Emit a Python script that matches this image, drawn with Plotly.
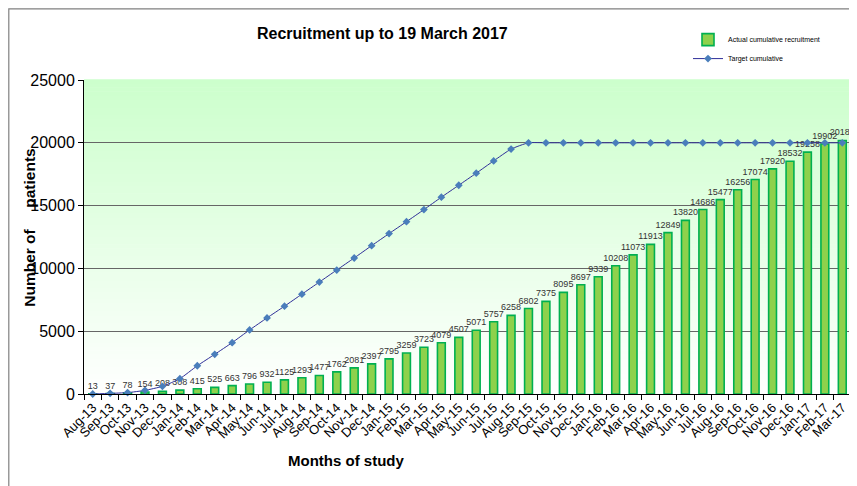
import plotly.graph_objects as go

months = ["Aug-13", "Sep-13", "Oct-13", "Nov-13", "Dec-13",
          "Jan-14", "Feb-14", "Mar-14", "Apr-14", "May-14", "Jun-14", "Jul-14", "Aug-14", "Sep-14", "Oct-14", "Nov-14", "Dec-14",
          "Jan-15", "Feb-15", "Mar-15", "Apr-15", "May-15", "Jun-15", "Jul-15", "Aug-15", "Sep-15", "Oct-15", "Nov-15", "Dec-15",
          "Jan-16", "Feb-16", "Mar-16", "Apr-16", "May-16", "Jun-16", "Jul-16", "Aug-16", "Sep-16", "Oct-16", "Nov-16", "Dec-16",
          "Jan-17", "Feb-17", "Mar-17"]

actual = [13, 37, 78, 154, 208,
          308, 415, 525, 663, 796, 932, 1125, 1293, 1477, 1762, 2081, 2397,
          2795, 3259, 3723, 4079, 4507, 5071, 5757, 6258, 6802, 7375, 8095, 8697,
          9339, 10208, 11073, 11913, 12849, 13820, 14686, 15477, 16256, 17074, 17920, 18532,
          19258, 19902, 20188]

target = [0, 50, 110, 290, 610,
          1220, 2250, 3160, 4090, 5100, 6060, 6990, 7950, 8910, 9870, 10830, 11810,
          12770, 13720, 14680, 15670, 16620, 17580, 18560, 19500, 20000, 20000, 20000, 20000,
          20000, 20000, 20000, 20000, 20000, 20000, 20000, 20000, 20000, 20000, 20000, 20000,
          20000, 20000, 20000]

y_ticks = [0, 5000, 10000, 15000, 20000, 25000]
grid_vals = [5000, 10000, 15000, 20000]

W, H = 857, 486
OFF = 8  # page body margin
L, T = 84 - OFF, 80 - OFF
R = W - (851 - OFF)
B = H - (394.5 - OFF)
pw = W - L - R
ph = H - T - B

def px_x(p):
    return (p - OFF - L) / pw

def px_y(p):
    return (H - B - (p - OFF)) / ph

fig = go.Figure()

fig.add_trace(go.Bar(
    x=months, y=actual, name="Actual cumulative recruitment",
    marker=dict(color="#8ed14c", line=dict(color="#00b050", width=1.6)),
    width=0.45,
    text=[str(v) for v in actual], textposition="outside",
    textfont=dict(family="Arial, Liberation Sans", size=9, color="#333333"),
    constraintext="none", cliponaxis=False,
))

fig.add_trace(go.Scatter(
    x=months, y=target, name="Target cumulative", mode="lines+markers",
    line=dict(color="#2f2f99", width=1, shape="spline", smoothing=0.5),
    marker=dict(symbol="diamond", size=6, color="#4a7ebb"),
    cliponaxis=False,
))

# gradient background of the plot area
shapes = []
n = 80
for i in range(n):
    t = (i + 0.5) / n
    r = round(255 - 51 * t)
    b = round(255 - 51 * t)
    shapes.append(dict(type="rect", xref="paper", yref="paper",
                       x0=0, x1=1, y0=i / n, y1=(i + 1) / n + 0.002,
                       fillcolor=f"rgb({r},255,{b})", line=dict(width=0), layer="below"))
# outer chart border (kept just inside the figure)
shapes.append(dict(type="rect", xref="paper", yref="paper",
                   x0=-(L - 0.8) / pw, x1=px_x(880), y0=px_y(520), y1=(ph + T - 0.8) / ph,
                   line=dict(color="#808080", width=1.2), fillcolor="rgba(0,0,0,0)", layer="above"))

sp = "\u00a0" * 5
annotations = [
    dict(text="<b>Recruitment up to 19 March 2017</b>", xref="paper", yref="paper",
         x=px_x(382), y=px_y(33), xanchor="center", yanchor="middle", showarrow=False,
         font=dict(family="Arial, Liberation Sans", size=16, color="#000000")),
    dict(text=f"<b>Number of{sp}patients</b>", xref="paper", yref="paper",
         x=px_x(30), y=px_y(228), xanchor="center", yanchor="middle", showarrow=False,
         textangle=-90, font=dict(family="Arial, Liberation Sans", size=15.5, color="#000000")),
    dict(text="<b>Months of study</b>", xref="paper", yref="paper",
         x=px_x(346), y=px_y(461), xanchor="center", yanchor="middle", showarrow=False,
         font=dict(family="Arial, Liberation Sans", size=15, color="#000000")),
]

fig.update_layout(
    width=W, height=H,
    margin=dict(l=L, r=R, t=T, b=B, autoexpand=False),
    paper_bgcolor="white", plot_bgcolor="white",
    font=dict(family="Arial, Liberation Sans", color="#000000"),
    showlegend=True,
    legend=dict(x=px_x(688), y=px_y(25), xanchor="left", yanchor="top",
                font=dict(size=7, family="Arial, Liberation Sans"),
                bgcolor="rgba(0,0,0,0)", itemwidth=30, tracegroupgap=0),
    shapes=shapes, annotations=annotations,
    bargap=0.55,
    xaxis=dict(type="category", categoryorder="array", categoryarray=months,
               range=[-0.5, len(months) - 0.5],
               showline=True, linecolor="#000000", linewidth=1,
               ticks="outside", tickson="boundaries", ticklen=5, tickcolor="#000000",
               tickangle=-45, tickfont=dict(size=13, family="Arial, Liberation Sans"),
               showgrid=False, fixedrange=True, automargin=False),
    yaxis=dict(range=[0, 25000], tickvals=y_ticks, ticktext=[str(v) for v in y_ticks],
               showline=True, linecolor="#000000", linewidth=1,
               ticks="outside", ticklen=5, tickcolor="#000000",
               tickfont=dict(size=16, family="Arial, Liberation Sans"),
               showgrid=False, zeroline=False,
               minor=dict(tickvals=grid_vals, showgrid=True, gridcolor="#666666",
                          gridwidth=1, ticks=""),
               fixedrange=True, automargin=False),
)

fig.write_html("out.html")
